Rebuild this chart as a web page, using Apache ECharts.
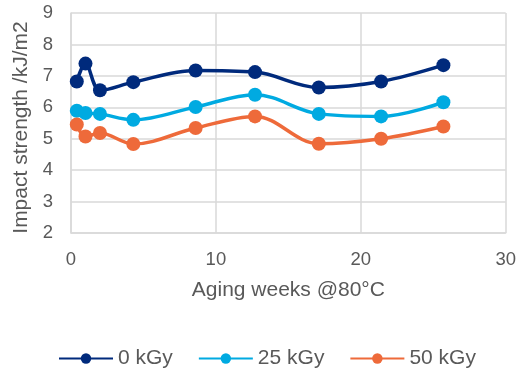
<!DOCTYPE html>
<html><head><meta charset="utf-8">
<script src="https://cdn.jsdelivr.net/npm/echarts@6/dist/echarts.min.js"></script>
<style>html,body{margin:0;padding:0;background:#fff}#c{width:519px;height:369px}</style>
</head><body><div id="c"></div>
<script>
const weeks = [0.4, 1.0, 2.0, 4.3, 8.6, 12.7, 17.1, 21.4, 25.7];
const s0 = [6.82, 7.39, 6.54, 6.80, 7.17, 7.12, 6.63, 6.82, 7.34];
const s25 = [5.89, 5.82, 5.79, 5.60, 6.01, 6.40, 5.79, 5.71, 6.16];
const s50 = [5.45, 5.07, 5.18, 4.83, 5.34, 5.71, 4.84, 5.00, 5.39];
const names = ['0 kGy', '25 kGy', '50 kGy'];
const colors = ['#002A7C', '#00AAE1', '#EE6A3A'];
const xTicks = [0, 10, 20, 30];
const yTicks = [2, 3, 4, 5, 6, 7, 8, 9];

const chart = echarts.init(document.getElementById('c'));
const font = 'Liberation Sans, Arial, sans-serif';
function mk(name, vals, color) {
  return {
    name, type: 'line', smooth: 0.35,
    data: weeks.map((w, i) => [w, vals[i]]),
    symbol: 'circle', symbolSize: 14,
    lineStyle: { width: 3.5, color }, itemStyle: { color },
    z: 3
  };
}
chart.setOption({
  animation: false,
  textStyle: { fontFamily: font },
  grid: { left: 71, right: 11, top: 13, bottom: 136 },
  xAxis: {
    type: 'value', min: xTicks[0], max: xTicks[xTicks.length - 1], interval: 10,
    name: 'Aging weeks @80°C', nameLocation: 'middle', nameGap: 47,
    nameTextStyle: { color: '#595959', fontSize: 21, fontFamily: font },
    axisLine: { show: true, lineStyle: { color: '#D9D9D9', width: 1.5 } },
    axisTick: { show: false },
    axisLabel: { color: '#595959', fontSize: 18.5, margin: 17, fontFamily: font },
    splitLine: { show: true, lineStyle: { color: '#D9D9D9', width: 1.5 } }
  },
  yAxis: {
    type: 'value', min: yTicks[0], max: yTicks[yTicks.length - 1], interval: 1,
    name: 'Impact strength /kJ/m2', nameLocation: 'middle', nameGap: 37,
    nameTextStyle: { color: '#595959', fontSize: 21, fontFamily: font, padding: [0, 9, 0, 0] },
    axisLine: { show: true, lineStyle: { color: '#D9D9D9', width: 1.5 } },
    axisTick: { show: false },
    axisLabel: { color: '#595959', fontSize: 18.5, margin: 18, fontFamily: font },
    splitLine: { show: true, lineStyle: { color: '#D9D9D9', width: 1.5 } }
  },
  legend: {
    top: 343, left: 53,
    itemWidth: 54, itemHeight: 13, itemGap: 25,
    textStyle: { color: '#595959', fontSize: 21, fontFamily: font },
    data: names
  },
  series: [mk(names[0], s0, colors[0]), mk(names[1], s25, colors[1]), mk(names[2], s50, colors[2])]
});
</script></body></html>
